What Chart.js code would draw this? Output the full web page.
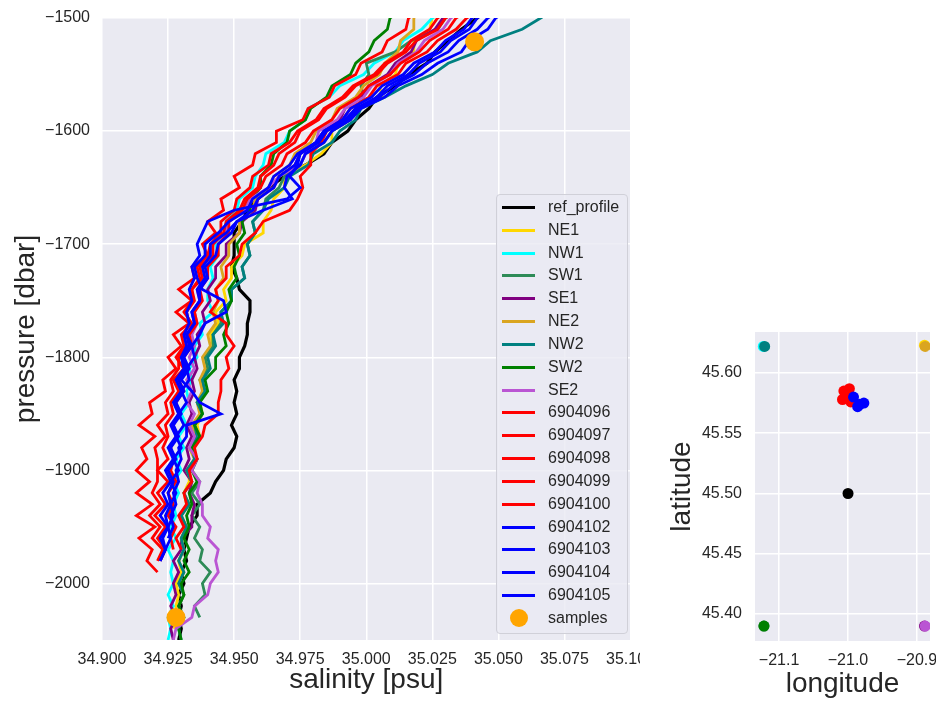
<!DOCTYPE html>
<html>
<head>
<meta charset="utf-8">
<script src="https://cdn.jsdelivr.net/npm/chart.js@4.4.1/dist/chart.umd.min.js"></script>
<style>
  body { margin: 0; background: #fff; width: 936px; height: 701px; position: relative; overflow: hidden;
         font-family: 'Liberation Sans', Arial, sans-serif; }
  #profiles { position: absolute; left: 0; top: 0; }
  #map { position: absolute; left: 640px; top: 0; }
  #legend { position: absolute; left: 496px; top: 194px; width: 132px; height: 440px; box-sizing: border-box;
            border: 1px solid #d0d0d8; border-radius: 4px; background: rgba(234,234,242,0.8); }
  .row { position: absolute; left: 0; height: 20px; font-size: 16px; line-height: 20px; color: #262626; }
  .row .ln { position: absolute; left: 5px; top: 9px; width: 33px; height: 3px; }
  .row .dot { position: absolute; left: 13px; top: 1px; width: 18px; height: 18px; border-radius: 50%; }
  .row .tx { position: absolute; left: 51px; top: 0; white-space: nowrap; }
</style>
</head>
<body>
<canvas id="profiles" width="640" height="701"></canvas>
<canvas id="map" width="296" height="701"></canvas>
<div id="legend"></div>
<script>
// pressure levels (dbar), shared by every profile
var pressure = [-1490, -1500, -1510, -1520, -1530, -1540, -1550, -1560, -1570, -1580,
  -1590, -1600, -1610, -1620, -1630, -1640, -1650, -1660, -1670, -1680,
  -1690, -1700, -1710, -1720, -1730, -1740, -1750, -1760, -1770, -1780,
  -1790, -1800, -1810, -1820, -1830, -1840, -1850, -1860, -1870, -1880,
  -1890, -1900, -1910, -1920, -1930, -1940, -1950, -1960, -1970, -1980,
  -1990, -2000, -2010, -2020, -2030, -2040, -2050];

// salinity (psu) at each pressure level
var refProfile = [35.046, 35.042, 35.036, 35.031, 35.026, 35.023, 35.016, 35.011, 35.004, 35.001,
  34.996, 34.993, 34.987, 34.984, 34.977, 34.969, 34.963, 34.959, 34.955, 34.953,
  34.950, 34.950, 34.950, 34.949, 34.951, 34.952, 34.956, 34.956, 34.955, 34.955,
  34.954, 34.952, 34.952, 34.950, 34.951, 34.950, 34.951, 34.949, 34.951, 34.950,
  34.947, 34.946, 34.943, 34.941, 34.936, 34.936, 34.933, 34.932, 34.931, 34.932,
  34.930, 34.931, 34.929, 34.930, 34.929, 34.930, 34.929];
var ne1 = [35.031, 35.025, 35.024, 35.018, 35.018, 35.012, 35.011, 35.005, 35.006, 34.997,
  34.994, 34.987, 34.987, 34.983, 34.977, 34.969, 34.969, 34.965, 34.964, 34.961,
  34.961, 34.954, 34.953, 34.949, 34.949, 34.946, 34.947, 34.943, 34.944, 34.941,
  34.942, 34.939, 34.940, 34.938, 34.939, 34.937, 34.938, 34.936, 34.937, 34.935,
  34.935, 34.933, 34.933, 34.931, 34.932, 34.930, 34.932, 34.930, 34.931, 34.929,
  34.930, 34.928, 34.929, 34.928, 34.928, 34.927];
var nw1 = [35.032, 35.025, 35.021, 35.014, 35.011, 35.003, 34.999, 34.990, 34.986, 34.978,
  34.977, 34.971, 34.969, 34.962, 34.961, 34.958, 34.957, 34.952, 34.951, 34.947,
  34.947, 34.943, 34.944, 34.941, 34.942, 34.940, 34.940, 34.942, 34.937, 34.938,
  34.935, 34.936, 34.933, 34.934, 34.932, 34.933, 34.930, 34.932, 34.929, 34.931,
  34.928, 34.930, 34.927, 34.929, 34.927, 34.928, 34.926, 34.928, 34.925, 34.927,
  34.926, 34.927, 34.925, 34.927, 34.925, 34.926, 34.925];
var sw1 = [35.037, 35.030, 35.027, 35.017, 35.011, 35.000, 35.001, 34.998, 34.999, 34.996,
  34.994, 34.987, 34.984, 34.977, 34.975, 34.969, 34.967, 34.962, 34.961, 34.957,
  34.958, 34.955, 34.956, 34.953, 34.954, 34.949, 34.949, 34.945, 34.945, 34.942,
  34.942, 34.939, 34.940, 34.937, 34.939, 34.936, 34.938, 34.935, 34.937, 34.934,
  34.936, 34.934, 34.937, 34.934, 34.937, 34.934, 34.937, 34.935, 34.938, 34.937,
  34.941, 34.938, 34.939, 34.935, 34.937];
var se1 = [35.036, 35.029, 35.026, 35.019, 35.017, 35.011, 35.008, 35.001, 34.998, 34.992,
  34.990, 34.984, 34.981, 34.975, 34.973, 34.967, 34.965, 34.959, 34.958, 34.953,
  34.952, 34.947, 34.947, 34.943, 34.943, 34.940, 34.941, 34.938, 34.939, 34.936,
  34.937, 34.935, 34.936, 34.934, 34.935, 34.933, 34.934, 34.932, 34.934, 34.932,
  34.933, 34.931, 34.934, 34.933, 34.935, 34.934, 34.934, 34.930, 34.930, 34.927,
  34.929, 34.927, 34.928, 34.926, 34.928, 34.926, 34.927];
var ne2 = [35.023, 35.018, 35.018, 35.013, 35.012, 35.007, 35.005, 34.999, 34.996, 34.989,
  34.987, 34.981, 34.979, 34.973, 34.971, 34.965, 34.963, 34.958, 34.957, 34.952,
  34.952, 34.948, 34.948, 34.945, 34.946, 34.943, 34.944, 34.942, 34.943, 34.940,
  34.941, 34.938, 34.939, 34.937, 34.938, 34.936, 34.937, 34.934, 34.936, 34.933,
  34.935, 34.932, 34.934, 34.931, 34.933, 34.930, 34.932, 34.930, 34.931, 34.929,
  34.931, 34.929, 34.931, 34.929, 34.930, 34.928];
var nw2 = [35.073, 35.066, 35.059, 35.047, 35.042, 35.031, 35.025, 35.015, 35.007, 34.998,
  34.996, 34.990, 34.987, 34.980, 34.978, 34.971, 34.969, 34.963, 34.961, 34.957,
  34.958, 34.955, 34.956, 34.953, 34.954, 34.949, 34.949, 34.945, 34.946, 34.942,
  34.943, 34.940, 34.941, 34.938, 34.939, 34.936, 34.938, 34.935, 34.936, 34.934,
  34.935, 34.932, 34.934, 34.931, 34.933, 34.930, 34.932, 34.930, 34.931, 34.929,
  34.931, 34.929, 34.931, 34.929, 34.931, 34.929, 34.930];
var sw2 = [35.015, 35.009, 35.008, 35.003, 35.001, 34.996, 34.994, 34.987, 34.985, 34.979,
  34.977, 34.971, 34.970, 34.965, 34.964, 34.960, 34.960, 34.956, 34.956, 34.953,
  34.954, 34.951, 34.952, 34.950, 34.951, 34.948, 34.949, 34.947, 34.948, 34.946,
  34.947, 34.943, 34.943, 34.939, 34.940, 34.937, 34.938, 34.935, 34.937, 34.934,
  34.936, 34.934, 34.936, 34.933, 34.934, 34.932, 34.933, 34.931, 34.933, 34.931,
  34.933, 34.930, 34.931, 34.929, 34.931, 34.929, 34.930];
var se2 = [35.039, 35.032, 35.029, 35.022, 35.019, 35.012, 35.009, 35.002, 34.999, 34.992,
  34.989, 34.982, 34.981, 34.977, 34.975, 34.967, 34.963, 34.956, 34.954, 34.948,
  34.947, 34.942, 34.941, 34.938, 34.939, 34.936, 34.937, 34.935, 34.936, 34.934,
  34.935, 34.933, 34.935, 34.932, 34.934, 34.932, 34.935, 34.933, 34.935, 34.933,
  34.936, 34.934, 34.937, 34.936, 34.938, 34.938, 34.941, 34.940, 34.944, 34.943,
  34.944, 34.941, 34.940, 34.935, 34.934, 34.928, 34.927];
var f6904096 = [35.023, 35.016, 35.015, 35.008, 35.006, 34.998, 34.996, 34.988, 34.986, 34.978,
  34.976, 34.966, 34.966, 34.958, 34.957, 34.950, 34.952, 34.945, 34.946, 34.940,
  34.943, 34.938, 34.940, 34.934, 34.935, 34.929, 34.934, 34.928, 34.933, 34.927,
  34.930, 34.925, 34.928, 34.923, 34.924, 34.918, 34.919, 34.914, 34.920, 34.915,
  34.917, 34.913, 34.918, 34.913, 34.919, 34.913, 34.920, 34.914, 34.919, 34.917,
  34.921];
var f6904097 = [35.033, 35.027, 35.024, 35.017, 35.014, 35.007, 35.003, 34.995, 34.991, 34.984,
  34.981, 34.974, 34.971, 34.964, 34.963, 34.957, 34.956, 34.951, 34.950, 34.945,
  34.945, 34.941, 34.940, 34.936, 34.937, 34.934, 34.934, 34.931, 34.934, 34.930,
  34.931, 34.928, 34.931, 34.927, 34.929, 34.926, 34.927, 34.924, 34.925, 34.923,
  34.925, 34.921, 34.925, 34.921, 34.924, 34.920, 34.924, 34.921, 34.924, 34.922];
var f6904098 = [35.041, 35.034, 35.031, 35.024, 35.020, 35.013, 35.009, 35.001, 34.997, 34.990,
  34.987, 34.980, 34.977, 34.970, 34.968, 34.962, 34.960, 34.955, 34.953, 34.948,
  34.948, 34.944, 34.944, 34.940, 34.940, 34.937, 34.938, 34.935, 34.936, 34.933,
  34.934, 34.931, 34.932, 34.929, 34.931, 34.928, 34.929, 34.927, 34.928, 34.926,
  34.927, 34.926, 34.928, 34.925, 34.927, 34.925, 34.928, 34.926, 34.927];
var f6904099 = [35.045, 35.038, 35.034, 35.027, 35.023, 35.015, 35.012, 35.004, 35.001, 34.994,
  34.991, 34.985, 34.983, 34.979, 34.979, 34.975, 34.976, 34.974, 34.971, 34.961,
  34.958, 34.953, 34.952, 34.947, 34.947, 34.943, 34.944, 34.941, 34.947, 34.947,
  34.950, 34.947, 34.948, 34.945, 34.945, 34.944, 34.944, 34.939, 34.938, 34.935,
  34.936, 34.933, 34.934, 34.931, 34.932, 34.929, 34.931, 34.928, 34.930];
var f6904100 = [35.037, 35.030, 35.027, 35.019, 35.015, 35.008, 35.004, 34.996, 34.992, 34.985,
  34.982, 34.975, 34.973, 34.967, 34.965, 34.960, 34.959, 34.954, 34.952, 34.947,
  34.946, 34.942, 34.942, 34.937, 34.938, 34.934, 34.935, 34.932, 34.933, 34.931,
  34.932, 34.929, 34.929, 34.926, 34.927, 34.924, 34.925, 34.921, 34.924, 34.920,
  34.921, 34.921, 34.921, 34.919, 34.922, 34.918, 34.922, 34.919, 34.923, 34.921];
var f6904102 = [35.056, 35.049, 35.046, 35.039, 35.036, 35.027, 35.021, 35.012, 35.007, 34.998,
  34.994, 34.987, 34.984, 34.977, 34.975, 34.970, 34.969, 34.972, 34.961, 34.951,
  34.947, 34.941, 34.941, 34.938, 34.939, 34.936, 34.937, 34.934, 34.935, 34.932,
  34.933, 34.930, 34.932, 34.929, 34.931, 34.928, 34.930, 34.927, 34.929, 34.926,
  34.928, 34.925, 34.927, 34.925, 34.926, 34.924, 34.925, 34.923, 34.924, 34.922];
var f6904103 = [35.049, 35.042, 35.039, 35.032, 35.028, 35.020, 35.016, 35.008, 35.004, 34.996,
  34.992, 34.984, 34.981, 34.974, 34.971, 34.965, 34.963, 34.957, 34.955, 34.948,
  34.944, 34.939, 34.939, 34.935, 34.936, 34.938, 34.946, 34.947, 34.939, 34.937,
  34.934, 34.935, 34.932, 34.933, 34.930, 34.932, 34.929, 34.931, 34.928, 34.930,
  34.927, 34.929, 34.926, 34.928, 34.926, 34.927, 34.925, 34.926, 34.924];
var f6904104 = [35.053, 35.046, 35.042, 35.035, 35.031, 35.023, 35.018, 35.010, 35.005, 34.997,
  34.993, 34.985, 34.982, 34.975, 34.973, 34.967, 34.965, 34.959, 34.957, 34.951,
  34.949, 34.944, 34.943, 34.939, 34.940, 34.937, 34.937, 34.934, 34.935, 34.932,
  34.934, 34.931, 34.933, 34.930, 34.934, 34.937, 34.945, 34.932, 34.932, 34.929,
  34.930, 34.928, 34.929, 34.927, 34.928, 34.926, 34.927, 34.925];
var f6904105 = [35.047, 35.040, 35.037, 35.030, 35.026, 35.018, 35.014, 35.006, 35.002, 34.994,
  34.991, 34.984, 34.981, 34.975, 34.974, 34.971, 34.975, 34.970, 34.950, 34.940,
  34.938, 34.936, 34.937, 34.934, 34.935, 34.933, 34.934, 34.932, 34.933, 34.931,
  34.932, 34.930, 34.931, 34.928, 34.930, 34.927, 34.929, 34.926, 34.928, 34.925,
  34.927, 34.924, 34.926, 34.923, 34.925, 34.922, 34.925, 34.922, 34.924, 34.922];

var profileNames = ['ref_profile', 'NE1', 'NW1', 'SW1', 'SE1', 'NE2', 'NW2', 'SW2', 'SE2',
  '6904096', '6904097', '6904098', '6904099', '6904100', '6904102', '6904103', '6904104', '6904105'];
var profileSal = [refProfile, ne1, nw1, sw1, se1, ne2, nw2, sw2, se2,
  f6904096, f6904097, f6904098, f6904099, f6904100, f6904102, f6904103, f6904104, f6904105];
var profileColors = ['#000000', '#ffd700', '#00ffff', '#2e8b57', '#800080', '#daa520', '#008080', '#008000', '#ba55d3',
  '#ff0000', '#ff0000', '#ff0000', '#ff0000', '#ff0000', '#0000ff', '#0000ff', '#0000ff', '#0000ff'];

// profile positions for the map
var profileLon = [-21.000, -20.889, -21.123, -21.122, -20.889, -20.888, -21.121, -21.122, -20.888,
  -20.998, -21.006, -21.003, -21.008, -20.996, -20.992, -20.986, -20.977, -20.983];
var profileLat = [45.500, 45.623, 45.622, 45.390, 45.390, 45.622, 45.622, 45.390, 45.390,
  45.587, 45.585, 45.583, 45.578, 45.576, 45.580, 45.572, 45.575, 45.574];

// water samples
var sampleSal = [35.041, 34.928];
var samplePres = [-1521, -2030];

// tick values
var salTicks = [34.900, 34.925, 34.950, 34.975, 35.000, 35.025, 35.050, 35.075, 35.100];
var presTicks = [-2000, -1900, -1800, -1700, -1600, -1500];
var lonTicks = [-21.1, -21.0, -20.9];
var latTicks = [45.40, 45.45, 45.50, 45.55, 45.60];

Chart.defaults.font.family = "'Liberation Sans', Arial, sans-serif";
Chart.defaults.color = '#262626';

var plotBg = {
  id: 'plotBg',
  beforeDraw: function(chart) {
    var a = chart.chartArea;
    var ctx = chart.ctx;
    ctx.save();
    ctx.fillStyle = '#eaeaf2';
    ctx.fillRect(a.left, a.top, a.right - a.left, a.bottom - a.top);
    ctx.restore();
  }
};

function minus(s) { return s.replace('-', '\u2212'); }

function axis(opts) {
  var horizontal = opts.horizontal;
  return {
    type: 'linear',
    min: opts.min,
    max: opts.max,
    afterBuildTicks: function(s) { s.ticks = opts.ticks.map(function(v) { return {value: v}; }); },
    afterFit: function(s) {
      if (horizontal) s.height = opts.size; else s.width = opts.size;
      s.paddingLeft = 0; s.paddingRight = 0; s.paddingTop = 0; s.paddingBottom = 0;
    },
    ticks: {
      padding: opts.tickPad, autoSkip: false, maxRotation: 0, color: '#262626', font: {size: 16},
      callback: function(v) { return minus(v.toFixed(opts.digits)); }
    },
    grid: { color: '#ffffff', lineWidth: 1.5, drawTicks: false },
    border: { display: false },
    title: { display: true, text: opts.title, color: '#262626', font: {size: 28}, padding: opts.titlePad }
  };
}

// ---- profiles chart
var datasets = [];
profileNames.forEach(function(name, i) {
  datasets.push({
    label: name,
    data: profileSal[i].map(function(s, j) { return {x: s, y: pressure[j]}; }),
    showLine: true,
    borderColor: profileColors[i],
    borderWidth: i === 0 ? 3.2 : 2.8,
    pointRadius: 0,
    order: 100 - i
  });
});
datasets.push({
  label: 'samples',
  data: sampleSal.map(function(s, j) { return {x: s, y: samplePres[j]}; }),
  backgroundColor: '#ffa500',
  borderWidth: 0,
  pointRadius: 9.5,
  order: 0
});

new Chart(document.getElementById('profiles'), {
  type: 'scatter',
  data: { datasets: datasets },
  options: {
    responsive: false,
    animation: false,
    layout: { padding: { top: 18, right: 4, left: 0, bottom: 0 } },
    plugins: { legend: { display: false }, tooltip: { enabled: false } },
    scales: {
      x: axis({horizontal: true, min: 34.9, max: 35.1, ticks: salTicks, digits: 3, size: 61, tickPad: 10,
               title: 'salinity [psu]', titlePad: {top: 0, bottom: 4}}),
      y: axis({horizontal: false, min: -2050, max: -1500, ticks: presTicks, digits: 0, size: 102, tickPad: 12,
               title: 'pressure [dbar]', titlePad: {top: 9, bottom: 0}})
    }
  },
  plugins: [plotBg]
});

// ---- map chart
var mapSets = profileNames.map(function(name, i) {
  return {
    label: name,
    data: [{x: profileLon[i], y: profileLat[i]}],
    backgroundColor: profileColors[i],
    borderWidth: 0,
    pointRadius: 5.5,
    order: 100 - i
  };
});

new Chart(document.getElementById('map'), {
  type: 'scatter',
  data: { datasets: mapSets },
  options: {
    responsive: false,
    animation: false,
    layout: { padding: { top: 332, right: 6, left: 0, bottom: 0 } },
    plugins: { legend: { display: false }, tooltip: { enabled: false } },
    scales: {
      x: axis({horizontal: true, min: -21.135, max: -20.881, ticks: lonTicks, digits: 1, size: 60, tickPad: 10,
               title: 'longitude', titlePad: {top: 0, bottom: 0}}),
      y: axis({horizontal: false, min: 45.3776, max: 45.634, ticks: latTicks, digits: 2, size: 115, tickPad: 13,
               title: 'latitude', titlePad: {top: 25, bottom: 0}})
    }
  },
  plugins: [plotBg]
});

// ---- legend (matplotlib style, inside the profile axes)
var legend = document.getElementById('legend');
var legendNames = profileNames.concat(['samples']);
legendNames.forEach(function(name, i) {
  var row = document.createElement('div');
  row.className = 'row';
  row.style.top = (2 + i * 22.83) + 'px';
  var mark = document.createElement('span');
  if (i < profileNames.length) {
    mark.className = 'ln';
    mark.style.background = profileColors[i];
  } else {
    mark.className = 'dot';
    mark.style.background = '#ffa500';
  }
  var tx = document.createElement('span');
  tx.className = 'tx';
  tx.textContent = name;
  row.appendChild(mark);
  row.appendChild(tx);
  legend.appendChild(row);
});
</script>
</body>
</html>
